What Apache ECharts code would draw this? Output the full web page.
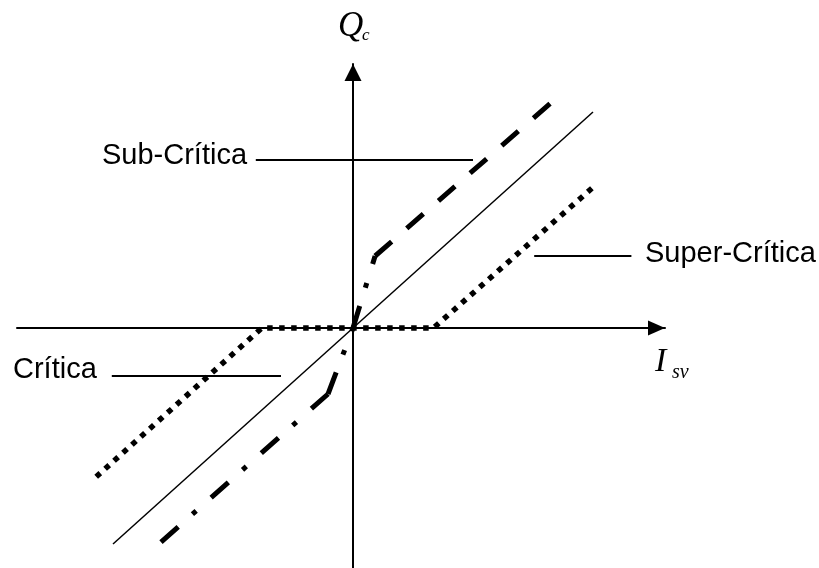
<!DOCTYPE html>
<html>
<head>
<meta charset="utf-8">
<script src="https://cdn.jsdelivr.net/npm/echarts@6/dist/echarts.min.js"></script>
<style>
  html, body { margin: 0; padding: 0; background: #fff; }
  #chart { width: 819px; height: 568px; }
</style>
</head>
<body>
<div id="chart"></div>
<script>
// axis extent (chart units, origin at the crossing)
var xRange = [-14, 13];
var yRange = [-10, 11];

// curves
var critica = [[-10, -9], [10, 9]];                                   // solid
var superCritica = [[-10.7, -6.2], [-3.8, 0], [3.35, 0], [10.1, 5.95]]; // dotted
var subDashDot = [[-8, -8.92], [-1.04, -2.75], [0, 0], [0.92, 3]];     // dash-dot part
var subDashed = [[0.92, 3], [8.29, 9.42]];                              // dashed part

// leader lines for the labels
var leaderSub = [[-4.05, 7], [5, 7]];
var leaderSuper = [[7.55, 3], [11.6, 3]];
var leaderCritica = [[-10.05, -2], [-3, -2]];

var labelNames = ['Sub-Crítica', 'Super-Crítica', 'Crítica'];

var chart = echarts.init(document.getElementById('chart'));

function lineSeries(data, width, type) {
	return {
		type: 'line',
		data: data,
		symbol: 'none',
		silent: true,
		animation: false,
		lineStyle: { color: '#000', width: width, type: type, cap: 'butt' }
	};
}

var series = [];
series.push(lineSeries(critica, 1.5, 'solid'));
series.push(lineSeries(superCritica, 5.5, [5.5, 6.5]));
// each dash-dot segment restarts its pattern, like the original drawing
for (var i = 0; i < subDashDot.length - 1; i++) {
	series.push(lineSeries([subDashDot[i], subDashDot[i + 1]], 5, [23, 19, 5, 20]));
}
series.push(lineSeries(subDashed, 5, [22, 20]));
series.push(lineSeries(leaderSub, 2, 'solid'));
series.push(lineSeries(leaderSuper, 2, 'solid'));
series.push(lineSeries(leaderCritica, 2, 'solid'));

var sans = '"Liberation Sans", Arial, sans-serif';
var serif = '"Liberation Serif", "Times New Roman", serif';

var option = {
	backgroundColor: '#fff',
	animation: false,
	grid: { left: 17, right: 154, top: 64, bottom: 0, containLabel: false },
	xAxis: {
		type: 'value', min: xRange[0], max: xRange[1],
		axisLine: { onZero: true, symbol: ['none', 'triangle'], symbolSize: [15, 17], symbolOffset: [0, -8.5],
			lineStyle: { color: '#000', width: 2 } },
		axisTick: { show: false }, axisLabel: { show: false }, splitLine: { show: false }
	},
	yAxis: {
		type: 'value', min: yRange[0], max: yRange[1],
		axisLine: { onZero: true, symbol: ['none', 'triangle'], symbolSize: [17, 17], symbolOffset: [0, -8.5],
			lineStyle: { color: '#000', width: 2 } },
		axisTick: { show: false }, axisLabel: { show: false }, splitLine: { show: false }
	},
	graphic: [
		{ type: 'text', left: 102, top: 141, style: { text: labelNames[0], font: '29px ' + sans, fill: '#000' } },
		{ type: 'text', left: 645, top: 239, style: { text: labelNames[1], font: '29px ' + sans, fill: '#000' } },
		{ type: 'text', left: 13, top: 355, style: { text: labelNames[2], font: '29px ' + sans, fill: '#000' } },
		{ type: 'text', left: 338, top: 9, style: { text: 'Q', font: 'italic 35px ' + serif, fill: '#000' } },
		{ type: 'text', left: 362, top: 27, style: { text: 'c', font: 'italic 17px ' + serif, fill: '#000' } },
		{ type: 'text', left: 655, top: 345, style: { text: 'I', font: 'italic 34px ' + serif, fill: '#000' } },
		{ type: 'text', left: 672, top: 363, style: { text: 'sv', font: 'italic 20px ' + serif, fill: '#000' } }
	],
	series: series
};

chart.setOption(option);
</script>
</body>
</html>
